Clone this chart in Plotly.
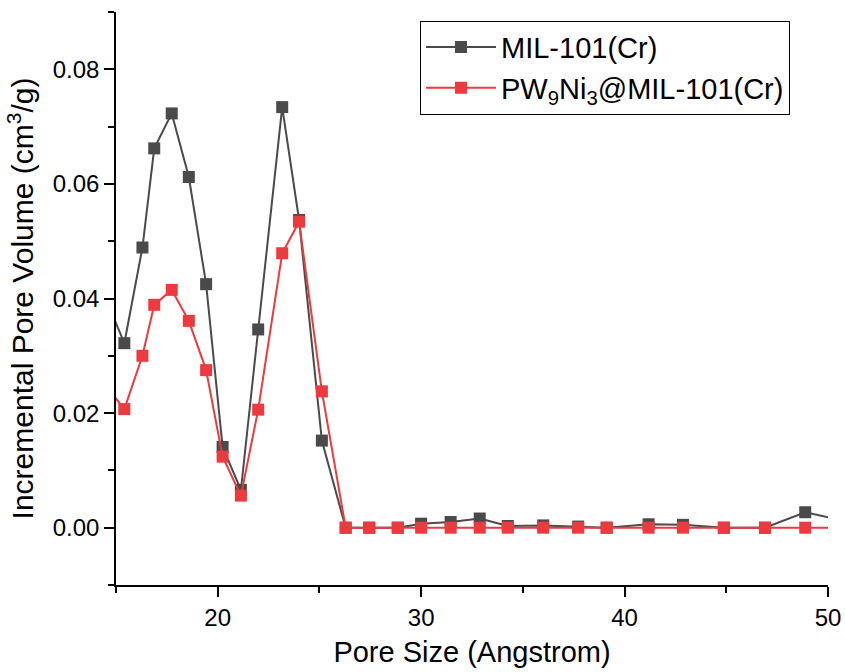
import plotly.graph_objects as go

# Pore size (Angstrom) — shared x values
pore_size = [14.55, 15.41, 16.30, 16.88, 17.74, 18.58, 19.43, 20.24, 21.14, 21.99,
             23.17, 24.00, 25.12, 26.29, 27.45, 28.85, 30.00, 31.45, 32.88, 34.26,
             36.00, 37.72, 39.12, 41.18, 42.87, 44.88, 46.90, 48.88, 50.90]

# Incremental pore volume (cm3/g)
mil101 = [0.0395, 0.0322, 0.0489, 0.0662, 0.0723, 0.0612, 0.0425, 0.0141, 0.0066, 0.0346,
          0.0734, 0.0537, 0.0152, 0.0, 0.0, 0.0, 0.0007, 0.0010, 0.0016, 0.0003,
          0.0004, 0.0002, 0.0, 0.0006, 0.0005, 0.0, 0.0, 0.0027, 0.0011]

pw9ni3_mil101 = [0.0245, 0.0207, 0.0300, 0.0389, 0.0415, 0.0361, 0.0275, 0.0124, 0.0056, 0.0206,
                 0.0479, 0.0534, 0.0238, 0.0, 0.0, 0.0, 0.0, 0.0, 0.0, 0.0,
                 0.0, 0.0, 0.0, 0.0, 0.0, 0.0, 0.0, 0.0, 0.0]

series_names = ["MIL-101(Cr)", "PW<sub>9</sub>Ni<sub>3</sub>@MIL-101(Cr)"]
series_colors = ["#4a4a4a", "#ec3a3e"]

FONT = "Liberation Sans, Arial, sans-serif"

fig = go.Figure()
for name, vals, col in zip(series_names, [mil101, pw9ni3_mil101], series_colors):
    fig.add_trace(go.Scatter(
        x=pore_size, y=vals, name=name, mode="lines+markers",
        line=dict(color=col, width=2),
        marker=dict(symbol="square", size=12, color=col),
    ))

axis_common = dict(
    showgrid=False, zeroline=False, showline=True, linecolor="black", linewidth=1.5,
    ticks="outside", ticklen=10, tickwidth=1.5, tickcolor="black",
    tickfont=dict(family=FONT, size=24, color="black"),
    mirror=False, automargin=False,
)

fig.update_xaxes(
    **axis_common,
    range=[15, 50], tick0=0, dtick=10,
    minor=dict(ticks="outside", ticklen=6, tickwidth=1.5, tickcolor="black", dtick=5, tick0=0),
    title=dict(text="Pore Size (Angstrom)", font=dict(family=FONT, size=29, color="black"), standoff=12),
)
fig.update_yaxes(
    **axis_common,
    range=[-0.01, 0.09], tick0=0, dtick=0.02, tickformat=".2f",
    minor=dict(ticks="outside", ticklen=6, tickwidth=1.5, tickcolor="black", dtick=0.01, tick0=0),
    title=dict(text="Incremental Pore Volume (cm<sup>3</sup>/g)", font=dict(family=FONT, size=30, color="black"), standoff=10),
)

fig.update_layout(
    width=845, height=672,
    margin=dict(l=116, r=17, t=12, b=87),
    plot_bgcolor="white", paper_bgcolor="white",
    font=dict(family=FONT, color="black"),
    legend=dict(
        x=0.427, y=0.985, xanchor="left", yanchor="top",
        bordercolor="black", borderwidth=1, bgcolor="white",
        font=dict(family=FONT, size=29, color="black"),
        itemwidth=70, tracegroupgap=0,
    ),
    showlegend=True,
)

fig.write_html("out.html")
